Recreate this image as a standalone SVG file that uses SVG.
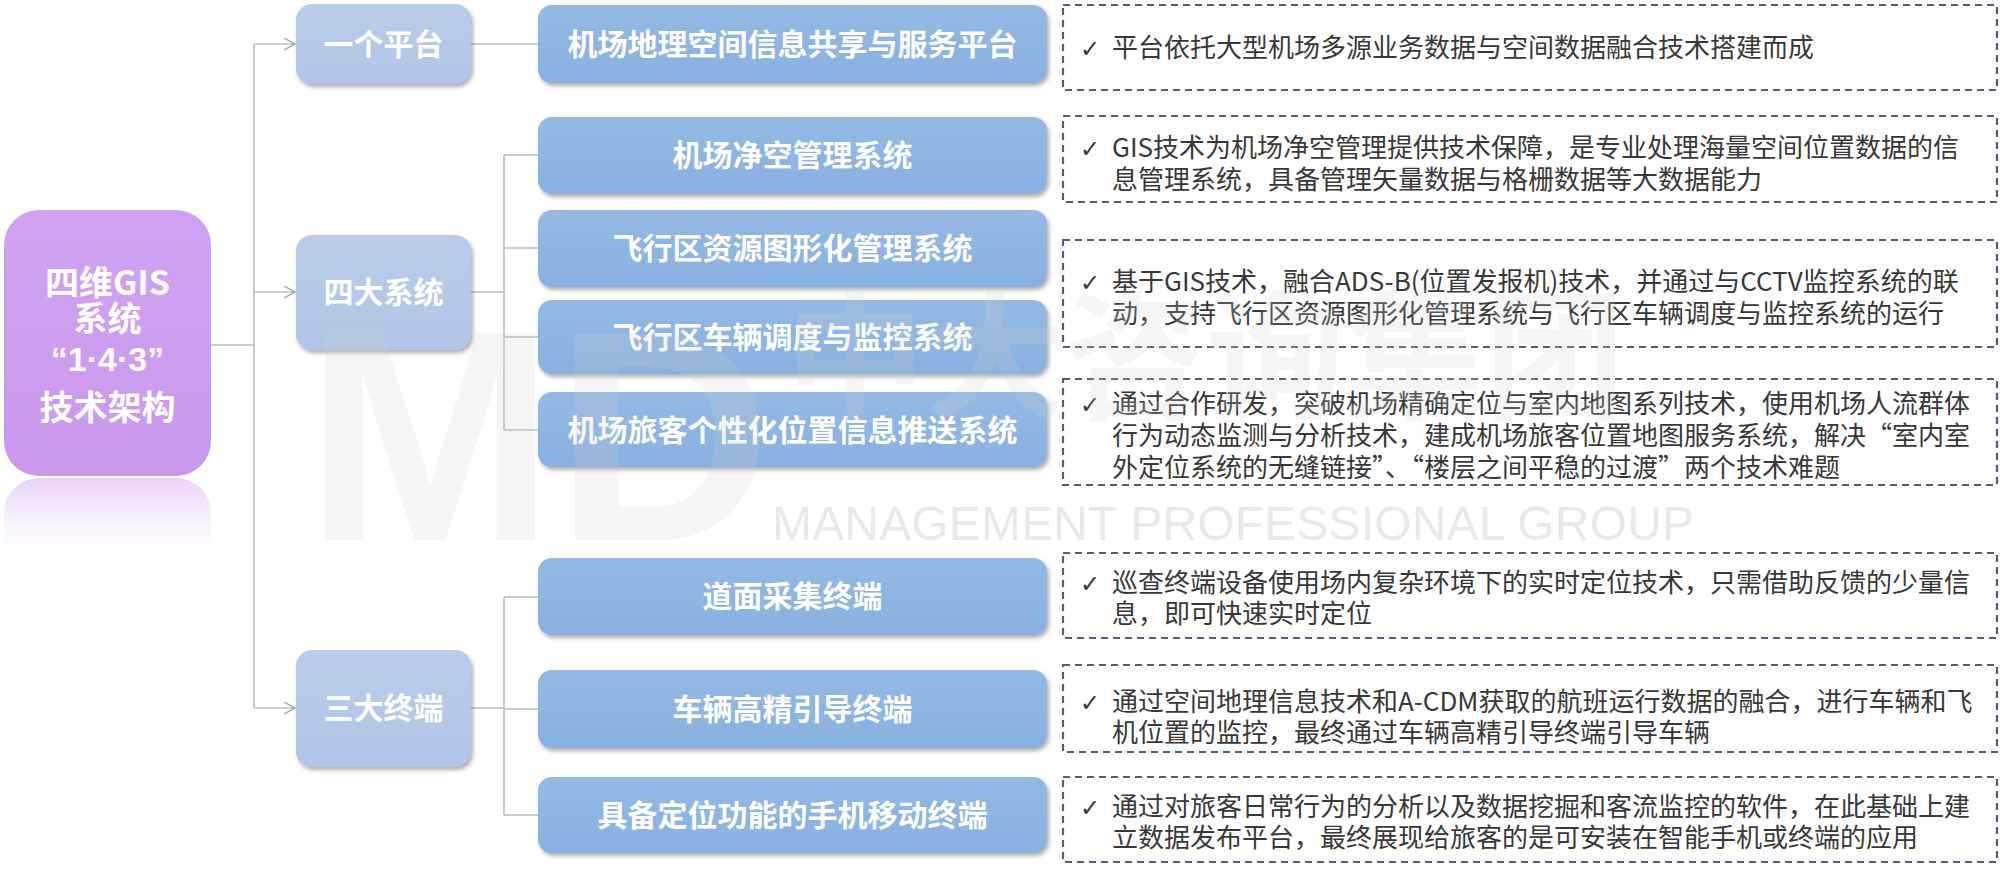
<svg xmlns="http://www.w3.org/2000/svg" width="2000" height="870" viewBox="0 0 2000 870">
  <defs>
    <style>
      .conn { fill: none; stroke: #bdbdbd; stroke-width: 1.6; }
      .l1 { fill: url(#gL1); filter: url(#sh); }
      .l2 { fill: url(#gL2); filter: url(#sh); }
      .bt { font-family: "Noto Sans CJK SC", "Noto Sans", sans-serif; font-weight: 700; fill: #ffffff; text-anchor: middle; }
      .t30 { font-size: 30px; }
      .pt { font-family: "Noto Sans CJK SC", "Noto Sans", sans-serif; font-weight: 700; font-size: 34px; fill: #ffffff; text-anchor: middle; }
      .dash { fill: #ffffff; stroke: #4f5f77; stroke-width: 2.2; stroke-dasharray: 7 5; }
      .dt { font-family: "Noto Sans CJK SC", "Noto Sans", sans-serif; font-size: 26px; fill: #383838; }
      .ck { font-family: "DejaVu Sans", "Noto Sans", sans-serif; font-size: 24px; fill: #383838; }
      .wm { fill: #d0d0d0; opacity: 0.2; }
      .wm2 { fill: #cfcfcf; opacity: 0.45; }
    </style>
    <linearGradient id="gP" x1="0" y1="0" x2="0" y2="1">
      <stop offset="0" stop-color="#D1A2F2"/>
      <stop offset="1" stop-color="#CA98ED"/>
    </linearGradient>
    <linearGradient id="gR" x1="0" y1="0" x2="0" y2="1">
      <stop offset="0" stop-color="#D6AAF3" stop-opacity="0.55"/>
      <stop offset="1" stop-color="#ffffff" stop-opacity="0"/>
    </linearGradient>
    <linearGradient id="gL1" x1="0" y1="0" x2="0" y2="1">
      <stop offset="0" stop-color="#BACCEA"/>
      <stop offset="1" stop-color="#B1C5E7"/>
    </linearGradient>
    <linearGradient id="gL2" x1="0" y1="0" x2="0" y2="1">
      <stop offset="0" stop-color="#94B9E5"/>
      <stop offset="1" stop-color="#88B0E0"/>
    </linearGradient>
    <filter id="sh" x="-5%" y="-10%" width="112%" height="130%">
      <feDropShadow dx="2" dy="3" stdDeviation="2" flood-color="#6d6d6d" flood-opacity="0.55"/>
    </filter>
    <marker id="arr" markerUnits="userSpaceOnUse" markerWidth="14" markerHeight="14" refX="11" refY="6" orient="auto">
      <path d="M0,0 L11,6 L0,12" fill="none" stroke="#a8a8a8" stroke-width="1.5"/>
    </marker>
  </defs>

  <rect width="2000" height="870" fill="#ffffff"/>

  <!-- connectors -->
  <g id="connectors">
    <path class="conn" d="M211,345 H254"/>
    <path class="conn" d="M254,44 V708"/>
    <path class="conn" d="M254,44 H295" marker-end="url(#arr)"/>
    <path class="conn" d="M254,292 H295" marker-end="url(#arr)"/>
    <path class="conn" d="M254,708 H295" marker-end="url(#arr)"/>
    <path class="conn" d="M471,44 H538"/>
    <path class="conn" d="M471,292 H504"/>
    <path class="conn" d="M504,155 V430"/>
    <path class="conn" d="M504,155 H538"/>
    <path class="conn" d="M504,248 H538"/>
    <path class="conn" d="M504,337 H538"/>
    <path class="conn" d="M504,430 H538"/>
    <path class="conn" d="M471,708 H504"/>
    <path class="conn" d="M504,597 V815"/>
    <path class="conn" d="M504,597 H538"/>
    <path class="conn" d="M504,709 H538"/>
    <path class="conn" d="M504,815 H538"/>
  </g>

  <!-- root -->
  <g id="root">
    <rect x="4" y="478" width="207" height="95" rx="35" fill="url(#gR)"/>
    <rect x="4" y="210" width="207" height="266" rx="35" fill="url(#gP)"/>
    <text class="pt" x="107.5" y="295">四维GIS</text>
    <text class="pt" x="107.5" y="331">系统</text>
    <text class="pt" x="107.5" y="371" style="font-family:'Liberation Sans', Arial, sans-serif">“1·4·3”</text>
    <text class="pt" x="107.5" y="420">技术架构</text>
  </g>

  <!-- level 1 -->
  <g id="n-platform1">
    <rect class="l1" x="296" y="4" width="175" height="80" rx="16"/>
    <text class="bt t30" x="383.5" y="55">一个平台</text>
  </g>
  <g id="n-systems4">
    <rect class="l1" x="296" y="235" width="175" height="115" rx="16"/>
    <text class="bt t30" x="383.5" y="303">四大系统</text>
  </g>
  <g id="n-terminals3">
    <rect class="l1" x="296" y="650" width="175" height="117" rx="16"/>
    <text class="bt t30" x="383.5" y="719">三大终端</text>
  </g>

  <!-- level 2 -->
  <g id="n-geo-platform">
    <rect class="l2" x="538" y="5" width="509" height="78" rx="14"/>
    <text class="bt t30" x="792.5" y="55">机场地理空间信息共享与服务平台</text>
  </g>
  <g id="n-clearance">
    <rect class="l2" x="538" y="117" width="509" height="77" rx="14"/>
    <text class="bt t30" x="792.5" y="166">机场净空管理系统</text>
  </g>
  <g id="n-resource">
    <rect class="l2" x="538" y="210" width="509" height="77" rx="14"/>
    <text class="bt t30" x="792.5" y="259">飞行区资源图形化管理系统</text>
  </g>
  <g id="n-vehicle-dispatch">
    <rect class="l2" x="538" y="300" width="509" height="74" rx="14"/>
    <text class="bt t30" x="792.5" y="348">飞行区车辆调度与监控系统</text>
  </g>
  <g id="n-passenger">
    <rect class="l2" x="538" y="392" width="509" height="75" rx="14"/>
    <text class="bt t30" x="792.5" y="441">机场旅客个性化位置信息推送系统</text>
  </g>
  <g id="n-pavement">
    <rect class="l2" x="538" y="558" width="509" height="77" rx="14"/>
    <text class="bt t30" x="792.5" y="607">道面采集终端</text>
  </g>
  <g id="n-vehicle-guide">
    <rect class="l2" x="538" y="670" width="509" height="78" rx="14"/>
    <text class="bt t30" x="792.5" y="720">车辆高精引导终端</text>
  </g>
  <g id="n-mobile">
    <rect class="l2" x="538" y="777" width="509" height="76" rx="14"/>
    <text class="bt t30" x="792.5" y="826">具备定位功能的手机移动终端</text>
  </g>

  <!-- descriptions -->
  <g id="d1">
    <rect class="dash" x="1063" y="5" width="934" height="85"/>
    <text class="ck" x="1080" y="57">✓</text>
    <text class="dt" x="1112" y="57">平台依托大型机场多源业务数据与空间数据融合技术搭建而成</text>
  </g>
  <g id="d2">
    <rect class="dash" x="1063" y="116" width="934" height="86"/>
    <text class="ck" x="1080" y="157">✓</text>
    <text class="dt" x="1112" y="157">GIS技术为机场净空管理提供技术保障，是专业处理海量空间位置数据的信</text>
    <text class="dt" x="1112" y="189">息管理系统，具备管理矢量数据与格栅数据等大数据能力</text>
  </g>
  <g id="d3">
    <rect class="dash" x="1063" y="240" width="934" height="107"/>
    <text class="ck" x="1080" y="291">✓</text>
    <text class="dt" x="1112" y="291">基于GIS技术，融合ADS-B(位置发报机)技术，并通过与CCTV监控系统的联</text>
    <text class="dt" x="1112" y="323">动，支持飞行区资源图形化管理系统与飞行区车辆调度与监控系统的运行</text>
  </g>
  <g id="d4">
    <rect class="dash" x="1063" y="379" width="934" height="106"/>
    <text class="ck" x="1080" y="413">✓</text>
    <text class="dt" x="1112" y="413">通过合作研发，突破机场精确定位与室内地图系列技术，使用机场人流群体</text>
    <text class="dt" x="1112" y="445">行为动态监测与分析技术，建成机场旅客位置地图服务系统，解决“室内室</text>
    <text class="dt" x="1112" y="477">外定位系统的无缝链接”、“楼层之间平稳的过渡”两个技术难题</text>
  </g>
  <g id="d5">
    <rect class="dash" x="1063" y="553" width="934" height="85"/>
    <text class="ck" x="1080" y="592">✓</text>
    <text class="dt" x="1112" y="592">巡查终端设备使用场内复杂环境下的实时定位技术，只需借助反馈的少量信</text>
    <text class="dt" x="1112" y="623">息，即可快速实时定位</text>
  </g>
  <g id="d6">
    <rect class="dash" x="1063" y="665" width="934" height="87"/>
    <text class="ck" x="1080" y="711">✓</text>
    <text class="dt" x="1112" y="711">通过空间地理信息技术和A-CDM获取的航班运行数据的融合，进行车辆和飞</text>
    <text class="dt" x="1112" y="742">机位置的监控，最终通过车辆高精引导终端引导车辆</text>
  </g>
  <g id="d7">
    <rect class="dash" x="1063" y="777" width="934" height="85"/>
    <text class="ck" x="1080" y="816">✓</text>
    <text class="dt" x="1112" y="816">通过对旅客日常行为的分析以及数据挖掘和客流监控的软件，在此基础上建</text>
    <text class="dt" x="1112" y="847">立数据发布平台，最终展现给旅客的是可安装在智能手机或终端的应用</text>
  </g>

  <!-- watermark -->
  <g id="watermark">
    <text class="wm" x="305" y="540" style="font-family:'Liberation Sans', Arial, sans-serif; font-weight:700; font-size:300px">MD</text>
    <text class="wm" x="785" y="408" style="font-family:'Noto Sans CJK SC', sans-serif; font-weight:700; font-size:140px">中大咨询集团</text>
    <text class="wm2" x="772" y="540" textLength="922" style="font-family:'Liberation Sans', Arial, sans-serif; font-size:48px">MANAGEMENT PROFESSIONAL GROUP</text>
  </g>
</svg>
